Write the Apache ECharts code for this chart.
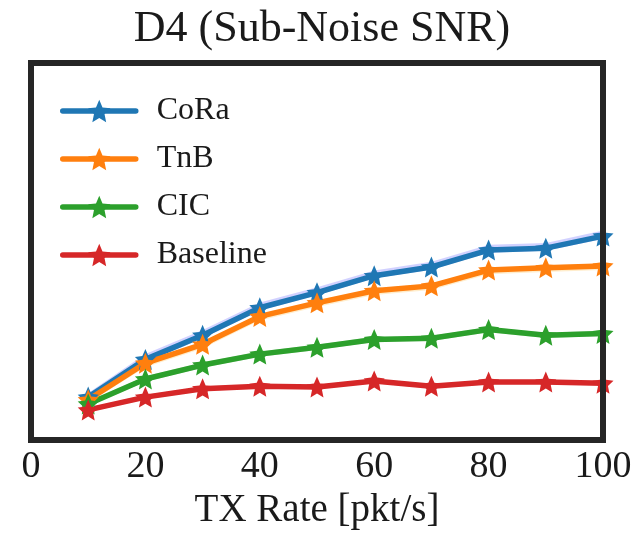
<!DOCTYPE html>
<html>
<head>
<meta charset="utf-8">
<script src="https://cdn.jsdelivr.net/npm/echarts@6/dist/echarts.min.js"></script>
<style>
  html, body { margin: 0; padding: 0; background: #ffffff; }
  #chart { width: 644px; height: 535px; }
</style>
</head>
<body>
<div id="chart"></div>
<script>
// Transmission rates (pkt/s)
const txRate = [10, 20, 30, 40, 50, 60, 70, 80, 90, 100];
const xTicks = [0, 20, 40, 60, 80, 100];

// Mean performance per scheme (normalised units, y axis hidden)
const cora     = [11.4, 21.4, 27.8, 35.1, 39.1, 43.6, 45.9, 50.4, 50.9, 54.1];
const tnb      = [10.7, 20.4, 25.4, 32.8, 36.4, 39.6, 40.9, 45.1, 45.7, 46.2];
const cic      = [9.6, 16.2, 19.9, 22.8, 24.6, 26.7, 27.0, 29.3, 27.8, 28.3];
const baseline = [8.0, 11.4, 13.6, 14.3, 14.1, 15.7, 14.3, 15.4, 15.4, 15.1];

// Confidence band limits
const coraHi = [12.5, 22.8, 29.2, 36.5, 40.5, 45.0, 47.3, 51.8, 52.3, 55.6];
const coraLo = [10.8, 20.6, 27.0, 34.4, 38.4, 42.9, 45.2, 49.7, 50.2, 53.3];
const tnbHi  = [11.3, 21.0, 26.1, 33.4, 37.0, 40.2, 41.5, 45.7, 46.3, 46.8];
const tnbLo  = [9.9, 19.3, 24.3, 31.7, 35.3, 38.5, 39.8, 44.0, 44.6, 45.1];
const cicHi  = [10.2, 16.9, 20.6, 23.5, 25.3, 27.4, 27.7, 30.0, 28.5, 29.0];
const cicLo  = [9.0, 15.5, 19.2, 22.1, 23.9, 26.0, 26.3, 28.6, 27.1, 27.6];
const baseHi = [8.6, 12.0, 14.2, 14.9, 14.7, 16.3, 14.9, 16.0, 16.0, 15.7];
const baseLo = [7.4, 10.8, 13.0, 13.7, 13.5, 15.1, 13.7, 14.8, 14.8, 14.5];

const seriesNames = ['CoRa', 'TnB', 'CIC', 'Baseline'];
const seriesColors = ['#1f77b4', '#ff7f0e', '#2ca02c', '#d62728'];
const bandColors = ['rgba(0,0,255,0.18)', 'rgba(255,165,0,0.2)', 'rgba(0,128,0,0.2)', 'rgba(255,0,0,0.2)'];

// Five-pointed star marker path (slightly fat arms)
function starPath() {
  const outer = 1, inner = 0.47;
  let d = '';
  for (let k = 0; k < 10; k++) {
    const r = k % 2 === 0 ? outer : inner;
    const a = -Math.PI / 2 + k * Math.PI / 5;
    const px = (r * Math.cos(a)).toFixed(4);
    const py = (r * Math.sin(a)).toFixed(4);
    d += (k === 0 ? 'M' : 'L') + px + ',' + py;
  }
  return 'path://' + d + 'Z';
}
const STAR = starPath();

const serif = '"Liberation Serif", "DejaVu Serif", serif';

function bandSeries(lo, hi, color) {
  return {
    type: 'custom',
    silent: true,
    z: 1,
    data: txRate.map((x, i) => [x, lo[i], hi[i]]),
    renderItem: function (params, api) {
      if (params.dataIndex !== 0) return null;
      const pts = [];
      for (let i = 0; i < txRate.length; i++) pts.push(api.coord([txRate[i], hi[i]]));
      for (let i = txRate.length - 1; i >= 0; i--) pts.push(api.coord([txRate[i], lo[i]]));
      return {
        type: 'polygon',
        shape: { points: pts },
        style: { fill: color, stroke: null }
      };
    }
  };
}

function lineSeries(name, values, color) {
  return {
    name: name,
    type: 'line',
    z: 3,
    data: txRate.map((x, i) => [x, values[i]]),
    symbol: STAR,
    symbolSize: 21,
    showAllSymbol: true,
    lineStyle: { width: 5.5, color: color, cap: 'round', join: 'round' },
    itemStyle: { color: color },
    emphasis: { disabled: true },
    clip: true
  };
}

const chart = echarts.init(document.getElementById('chart'), null, { renderer: 'canvas' });

chart.setOption({
  animation: false,
  backgroundColor: '#ffffff',
  title: {
    text: 'D4 (Sub-Noise SNR)',
    left: 'center',
    top: 2,
    textStyle: { fontFamily: serif, fontSize: 44, fontWeight: 'normal', color: '#1a1a1a' }
  },
  legend: {
    orient: 'vertical',
    left: 55,
    top: 89,
    itemWidth: 73,
    itemHeight: 28,
    itemGap: 14,
    data: seriesNames,
    lineStyle: { width: 5.5, cap: 'round' },
    textStyle: { fontFamily: serif, fontSize: 32, color: '#1a1a1a', lineHeight: 34, padding: [0, 0, 0, 16] }
  },
  grid: {
    show: true,
    z: 10,
    left: 31,
    top: 63,
    width: 572,
    height: 380.5,
    borderWidth: 6,
    borderColor: '#262626',
    backgroundColor: 'transparent'
  },
  xAxis: {
    type: 'value',
    min: 0,
    max: 100,
    interval: 20,
    name: 'TX Rate [pkt/s]',
    nameLocation: 'middle',
    nameGap: 50,
    nameTextStyle: { fontFamily: serif, fontSize: 39, color: '#1a1a1a' },
    axisLine: { show: false },
    axisTick: { show: false },
    splitLine: { show: false },
    axisLabel: {
      margin: 8,
      fontFamily: serif,
      fontSize: 38,
      color: '#1a1a1a',
      customValues: xTicks
    }
  },
  yAxis: {
    type: 'value',
    min: 0,
    max: 100,
    show: false,
    splitLine: { show: false }
  },
  series: [
    bandSeries(coraLo, coraHi, bandColors[0]),
    bandSeries(tnbLo, tnbHi, bandColors[1]),
    bandSeries(cicLo, cicHi, bandColors[2]),
    bandSeries(baseLo, baseHi, bandColors[3]),
    lineSeries(seriesNames[0], cora, seriesColors[0]),
    lineSeries(seriesNames[1], tnb, seriesColors[1]),
    lineSeries(seriesNames[2], cic, seriesColors[2]),
    lineSeries(seriesNames[3], baseline, seriesColors[3])
  ]
});
</script>
</body>
</html>
